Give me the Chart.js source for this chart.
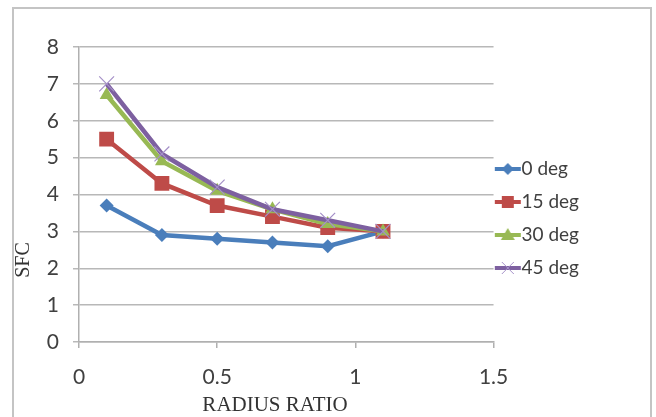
<!DOCTYPE html>
<html>
<head>
    <meta charset="utf-8"/>
    <title>SFC vs radius ratio</title>
    <script src="https://cdn.jsdelivr.net/npm/chart.js@4.4.1/dist/chart.umd.min.js"></script>
    <style>
        html, body { margin: 0; padding: 0; background: #fff; }
        #wrap { position: relative; width: 656px; height: 417px; }
    </style>
</head>
<body>
<div id="wrap"><canvas id="sfcChart" width="656" height="417"></canvas></div>
<script>
    // data
    const radiusRatio = [0.1, 0.3, 0.5, 0.7, 0.9, 1.1];
    const deg0  = [3.7, 2.9, 2.8, 2.7, 2.6, 3.0];
    const deg15 = [5.5, 4.3, 3.7, 3.4, 3.1, 3.0];
    const deg30 = [6.7, 4.9, 4.1, 3.6, 3.2, 3.0];
    const deg45 = [7.0, 5.1, 4.2, 3.6, 3.3, 3.0];
    const seriesNames = ['0 deg', '15 deg', '30 deg', '45 deg'];
    const xTitle = 'RADIUS RATIO';
    const yTitle = 'SFC';

    const colors = ['#4a7ebb', '#be4b48', '#98b954', '#7d60a0'];
    const styles = ['rectRot', 'rect', 'triangle', 'crossRot'];
    const radii = [7, 10.5, 8, 10.5];

    function toPoints(ys) {
        return ys.map((y, i) => ({x: radiusRatio[i], y: y}));
    }

    // legend icon: line with the marker in the middle (drawn centred, so pad left side)
    function legendIcon(color, style) {
        const c = document.createElement('canvas');
        c.width = 32; c.height = 16;
        const g = c.getContext('2d');
        g.strokeStyle = color;
        g.fillStyle = color;
        g.lineWidth = 4;
        g.beginPath(); g.moveTo(1, 8); g.lineTo(27, 8); g.stroke();
        const m = 14;
        if (style === 'rectRot') {
            g.beginPath(); g.moveTo(m, 2); g.lineTo(m + 6, 8); g.lineTo(m, 14); g.lineTo(m - 6, 8); g.closePath(); g.fill();
        } else if (style === 'rect') {
            g.fillRect(m - 6, 2, 12, 12);
        } else if (style === 'triangle') {
            g.beginPath(); g.moveTo(m, 1); g.lineTo(m + 7, 13); g.lineTo(m - 7, 13); g.closePath(); g.fill();
        } else {
            g.strokeStyle = '#a590c8';
            g.lineWidth = 1;
            g.beginPath(); g.moveTo(m - 6, 2); g.lineTo(m + 6, 14); g.moveTo(m + 6, 2); g.lineTo(m - 6, 14); g.stroke();
        }
        return c;
    }

    const allSeries = [deg0, deg15, deg30, deg45];
    const datasets = allSeries.map((ys, i) => ({
        label: seriesNames[i],
        data: toPoints(ys),
        order: 3 - i,
        borderColor: colors[i],
        backgroundColor: colors[i],
        borderWidth: 4.5,
        pointStyle: styles[i],
        pointRadius: radii[i],
        pointBorderWidth: styles[i] === 'crossRot' ? 1.2 : 0,
        pointBorderColor: i === 3 ? '#a590c8' : colors[i],
        tension: 0,
        showLine: true
    }));

    // outer frame and the axis titles
    const framePlugin = {
        id: 'frame',
        beforeDraw(chart) {
            const ctx = chart.ctx;
            ctx.save();
            ctx.strokeStyle = '#c4c4c4';
            ctx.lineWidth = 2;
            ctx.strokeRect(13, 8, 638, 420);
            ctx.restore();
        },
        afterDraw(chart) {
            const ctx = chart.ctx;
            ctx.save();
            ctx.font = '21px "Liberation Serif"';
            ctx.fillStyle = '#333';
            ctx.textAlign = 'center';
            ctx.textBaseline = 'middle';
            ctx.fillText(xTitle, 275, 405);
            ctx.translate(24, 260);
            ctx.rotate(-Math.PI / 2);
            ctx.font = '20px "Liberation Serif"';
            ctx.fillText(yTitle, 0, 0);
            ctx.restore();
        }
    };

    new Chart(document.getElementById('sfcChart'), {
        type: 'scatter',
        data: {datasets: datasets},
        plugins: [framePlugin],
        options: {
            responsive: false,
            animation: false,
            layout: {padding: {left: 0, right: 67, top: 47, bottom: 27}},
            plugins: {
                tooltip: {enabled: false},
                legend: {
                    position: 'right',
                    labels: {
                        usePointStyle: true,
                        pointStyleWidth: 4.5,
                        padding: 14,
                        color: '#404040',
                        font: {family: 'Lato', size: 19},
                        generateLabels(chart) {
                            return seriesNames.map((name, i) => ({
                                text: name,
                                pointStyle: legendIcon(colors[i], styles[i]),
                                fillStyle: colors[i],
                                strokeStyle: colors[i],
                                lineWidth: 0,
                                fontColor: '#404040',
                                datasetIndex: i
                            }));
                        }
                    }
                }
            },
            scales: {
                x: {
                    type: 'linear',
                    min: 0,
                    max: 1.5,
                    ticks: {stepSize: 0.5, padding: 17, color: '#404040', font: {family: 'Lato', size: 21},
                        callback: v => String(v)},
                    grid: {drawOnChartArea: false, tickLength: 6, color: '#b0b0b0', lineWidth: 1.5},
                    border: {color: '#b0b0b0', width: 1.5},
                    afterFit(scale) { scale.height = 48; }
                },
                y: {
                    min: 0,
                    max: 8,
                    ticks: {stepSize: 1, padding: 14, color: '#404040', font: {family: 'Lato', size: 21}},
                    grid: {tickLength: 6, color: '#b8b8b8', lineWidth: 1.5},
                    border: {color: '#b0b0b0', width: 1.5},
                    afterFit(scale) { scale.width = 79; }
                }
            }
        }
    });
</script>
</body>
</html>
